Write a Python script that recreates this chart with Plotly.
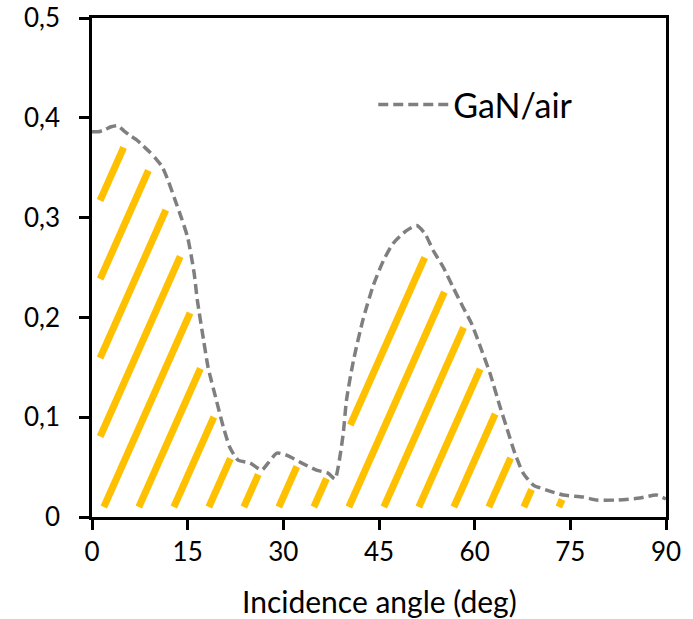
import numpy as np
import plotly.graph_objects as go

# ---- data ----
angle = [0, 1, 2, 3, 4, 5, 6, 7, 8, 9, 10, 11, 12, 13, 14, 15, 16, 16.5, 17.5, 18.2,
         19.5, 20.6, 21.6, 22.9, 24.8, 26.6, 27.6, 29, 30.5, 32.6, 35.2, 37, 38.1, 38.6,
         39.4, 39.9, 41, 42.5, 44.1, 45.7, 47.2, 49.3, 50.9, 52.2, 53.5, 55.1, 56.7, 58.2,
         59.5, 61.1, 62.4, 64, 65, 66.3, 67.6, 69.2, 71.3, 73.9, 77, 79.1, 82.3, 85.9, 88.5, 90]
reflectance = [0.386, 0.386, 0.388, 0.391, 0.392, 0.387, 0.382, 0.378, 0.372, 0.366, 0.359,
               0.351, 0.336, 0.318, 0.300, 0.280, 0.245, 0.218, 0.177, 0.150, 0.117, 0.090,
               0.070, 0.057, 0.054, 0.047, 0.054, 0.064, 0.062, 0.055, 0.047, 0.044, 0.038,
               0.050, 0.084, 0.117, 0.157, 0.198, 0.232, 0.257, 0.274, 0.287, 0.292, 0.284,
               0.267, 0.250, 0.229, 0.210, 0.194, 0.167, 0.144, 0.110, 0.090, 0.064, 0.044,
               0.032, 0.027, 0.022, 0.020, 0.017, 0.017, 0.019, 0.022, 0.018]
series_name = "GaN/air"
x_tick_vals = [0, 15, 30, 45, 60, 75, 90]
x_tick_labels = ["0", "15", "30", "45", "60", "75", "90"]
y_tick_vals = [0, 0.1, 0.2, 0.3, 0.4, 0.5]
y_tick_labels = ["0", "0,1", "0,2", "0,3", "0,4", "0,5"]
x_title = "Incidence angle (deg)"

# ---- layout geometry ----
W, H = 693, 619
ML, MR, MT, MB = 92, 27, 18, 102
XMAX, YMAX = 90, 0.5
pw, ph = W - ML - MR, H - MT - MB
sx, sy = pw / XMAX, ph / YMAX

# ---- hatch pattern (diagonal stripes under the curve), computed from the curve ----
ax = np.array(angle, float)
ay = np.array(reflectance, float)
cu = np.arange(0, pw + 0.25, 0.5)
cv = np.interp(cu / sx, ax, ay) * sy
cpts = np.stack([cu, cv], 1)

SLOPE = 2.25      # stripe steepness in pixels
SPACING = 35.0    # horizontal spacing in pixels
PHASE = -132.6
VBOT = 10.0
ULEFT = 8.0

hx, hy = [], []
for k in range(0, 22):
    c = PHASE + SPACING * k
    v = np.arange(0, ph, 0.5)
    u = c + v / SLOPE
    ok = (u >= ULEFT) & (u <= pw) & (v >= VBOT)
    ok &= v < np.interp(u, cu, cv)
    if not ok.any():
        continue
    idx = np.where(ok)[0]
    pu, pv = u[idx], v[idx]
    d = np.sqrt(((pu[:, None] - cpts[None, :, 0]) ** 2 + (pv[:, None] - cpts[None, :, 1]) ** 2).min(1))
    inset = 4.0 + 0.025 * pv
    good = np.zeros_like(ok)
    good[idx] = d >= inset
    padded = np.concatenate([[False], good, [False]]).astype(int)
    diff = np.diff(padded)
    starts = np.where(diff == 1)[0]
    ends = np.where(diff == -1)[0] - 1
    for s, e in zip(starts, ends):
        if (v[e] - v[s]) < 4:
            continue
        hx += [u[s] / sx, u[e] / sx, None]
        hy += [v[s] / sy, v[e] / sy, None]

fig = go.Figure()
fig.add_trace(go.Scatter(x=hx, y=hy, mode="lines", line=dict(color="#FFC000", width=7),
                         showlegend=False, hoverinfo="skip"))
fig.add_trace(go.Scatter(x=angle, y=reflectance, mode="lines", name=series_name,
                         line=dict(color="#7F7F7F", width=3.5, dash="10px,5px",
                                   shape="spline", smoothing=0.6)))

axis_common = dict(showline=True, linecolor="black", linewidth=2.5, mirror=True,
                   ticks="outside", ticklen=10, tickwidth=2.5, tickcolor="black",
                   showgrid=False, zeroline=False, automargin=False,
                   tickfont=dict(family="Lato", size=26, color="black"))
fig.update_xaxes(range=[0, XMAX], tickvals=x_tick_vals, ticktext=x_tick_labels,
                 **axis_common)
fig.update_yaxes(range=[0, YMAX], tickvals=y_tick_vals, ticktext=y_tick_labels,
                 ticklabelstandoff=14, **axis_common)

fig.add_annotation(text=x_title, xref="paper", yref="paper", x=0.5, y=-(601 - 517) / ph,
                   xanchor="center", yanchor="middle", showarrow=False,
                   font=dict(family="Lato", size=30, color="black"))

fig.update_layout(
    width=W, height=H,
    margin=dict(l=ML, r=MR, t=MT, b=MB, pad=0),
    paper_bgcolor="white", plot_bgcolor="white",
    showlegend=True,
    legend=dict(x=0.49, y=0.826, xanchor="left", yanchor="middle",
                bgcolor="rgba(0,0,0,0)", itemwidth=70,
                font=dict(family="Lato", size=34, color="black")),
)

fig.write_html("out.html", config={"displayModeBar": False},
               post_script="document.body.style.margin='0';")
